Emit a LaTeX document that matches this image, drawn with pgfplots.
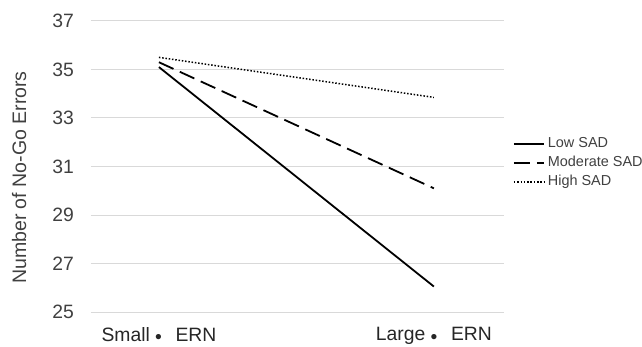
\documentclass[border=0pt]{standalone}
\usepackage{fontspec}
\setmainfont{Liberation Sans}
\usepackage{pgfplots}
\pgfplotsset{compat=1.18}
\definecolor{gridgray}{HTML}{D9D9D9}
\definecolor{txtgray}{HTML}{404040}
\begin{document}
\begin{tikzpicture}
\useasboundingbox (-91bp,-35bp) rectangle (551bp,312bp);
\begin{axis}[
 at={(0,0)}, anchor=south west,
 scale only axis, width=413bp, height=291bp,
 xmin=-0.247, xmax=1.255, ymin=25, ymax=37,
 ytick={25,27,29,31,33,35,37},
 xtick={0,1},
 xticklabels={Small \raisebox{-0.12em}{•}\hspace{0.7em}ERN, Large \raisebox{-0.12em}{•}\hspace{0.7em}ERN},
 axis line style={draw=none},
 major tick length=0pt,
 ymajorgrids, grid style={gridgray, line width=1bp},
 /pgf/number format/assume math mode=true,
 tick label style={font=\fontsize{19.4}{23}\selectfont},
 yticklabel style={text=txtgray, anchor=east, inner sep=0pt, xshift=-17bp},
 xticklabel style={text=black!85, yshift=-12bp},
 legend style={at={(axis description cs:1.022,0.512)}, anchor=west, draw=none, fill=none, inner sep=0pt, outer sep=0pt, font=\fontsize{14.5}{17}\selectfont, text=txtgray, row sep=4bp, column sep=2bp, nodes={inner sep=1bp, text height=10bp, text depth=3bp}},
 legend cell align=left,
 legend image code/.code={\draw[#1] (0bp,0bp) -- (30bp,0bp);},
 clip=false,
]
\addplot[black, line width=1.8bp] coordinates {(0,35.1) (1,26.05)};
\addlegendentry{Low SAD}
\addplot[black, line width=1.8bp, dash pattern=on 16bp off 7bp] coordinates {(0,35.3) (1,30.1)};
\addlegendentry{Moderate SAD}
\addplot[black, line width=1.5bp, dash pattern=on 1.5bp off 1.8bp] coordinates {(0,35.5) (1,33.85)};
\addlegendentry{High SAD}
\node[rotate=90, anchor=center, inner sep=0pt, font=\fontsize{19.6}{23}\selectfont, text=txtgray] at (axis description cs:-0.174,0.462) {Number of No-Go Errors};
\end{axis}
\end{tikzpicture}
\end{document}
